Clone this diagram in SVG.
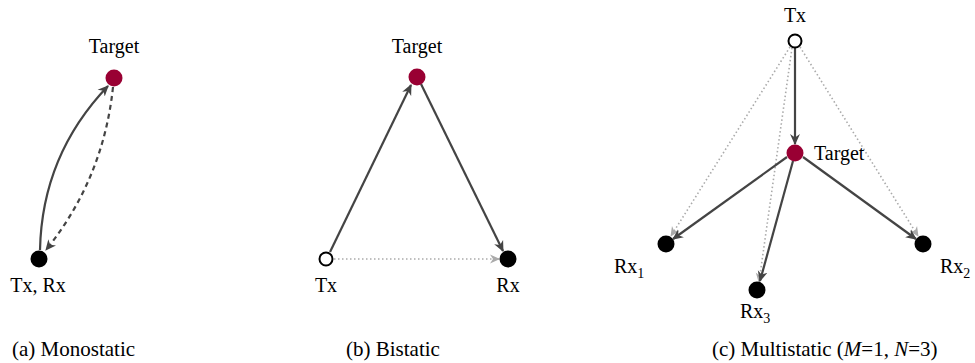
<svg xmlns="http://www.w3.org/2000/svg" width="975" height="363" viewBox="0 0 975 363" font-family="'Liberation Serif', 'Times New Roman', Tinos, 'DejaVu Serif', serif" font-size="20">
<style>
.lbl{font-family:"Liberation Serif","Times New Roman",Tinos,"DejaVu Serif",serif;font-size:20px;fill:#000}
.cap{font-size:21px}
.sub{font-size:14px}
.tgt{fill:#990033}
.rx{fill:#000}
.tx{fill:#fff;stroke:#000;stroke-width:2}
.sig{fill:none;stroke:#444;stroke-width:2.2}
.dash{fill:none;stroke:#444;stroke-width:2.2;stroke-dasharray:5 4}
.dot{fill:none;stroke:#aaa;stroke-width:1.6;stroke-dasharray:1.5 2.5}
</style>
<defs>
<marker id="ah" viewBox="0 0 10 10" refX="9" refY="5" markerWidth="11" markerHeight="11" markerUnits="userSpaceOnUse" orient="auto">
<path d="M0,0.5 L10,5 L0,9.5 L3,5 z" fill="#444"/>
</marker>
<marker id="ahg" viewBox="0 0 10 10" refX="9" refY="5" markerWidth="10" markerHeight="10" markerUnits="userSpaceOnUse" orient="auto">
<path d="M0,0.5 L10,5 L0,9.5 L3,5 z" fill="#aaa"/>
</marker>
</defs>
<g id="connectors">
<path class="sig" d="M40,250 Q42,155 108,86" marker-end="url(#ah)"/>
<path class="dash" d="M113,87 Q103.5,178.5 46,250" marker-end="url(#ah)"/>
<path class="sig" d="M330,252 L411,85" marker-end="url(#ah)"/>
<path class="sig" d="M421,84 L503,251" marker-end="url(#ah)"/>
<path class="dot" d="M334,259 L499,259" marker-end="url(#ahg)"/>
<path class="dot" d="M790,47 L671,236" marker-end="url(#ahg)"/>
<path class="dot" d="M792,48 L759,282" marker-end="url(#ahg)"/>
<path class="dot" d="M800,47 L918,236" marker-end="url(#ahg)"/>
<path class="sig" d="M795,48 L795,144" marker-end="url(#ah)"/>
<path class="sig" d="M787,157 L673,239" marker-end="url(#ah)"/>
<path class="sig" d="M793,161 L760,281" marker-end="url(#ah)"/>
<path class="sig" d="M803,157 L916,239" marker-end="url(#ah)"/>
</g>
<g id="a-target"><circle class="tgt" cx="114" cy="78" r="8.5"/><text class="lbl" x="114" y="53" text-anchor="middle">Target</text></g>
<g id="a-txrx"><circle class="rx" cx="39" cy="259" r="8.5"/><text class="lbl" x="38" y="292" text-anchor="middle">Tx, Rx</text></g>
<g id="b-target"><circle class="tgt" cx="417" cy="77" r="8.5"/><text class="lbl" x="417" y="53" text-anchor="middle">Target</text></g>
<g id="b-tx"><circle class="tx" cx="326" cy="259" r="6.5"/><text class="lbl" x="326" y="292" text-anchor="middle">Tx</text></g>
<g id="b-rx"><circle class="rx" cx="508" cy="259" r="8.5"/><text class="lbl" x="508" y="292" text-anchor="middle">Rx</text></g>
<g id="c-tx"><circle class="tx" cx="795" cy="41" r="6.5"/><text class="lbl" x="795" y="22" text-anchor="middle">Tx</text></g>
<g id="c-target"><circle class="tgt" cx="795" cy="153" r="8.5"/><text class="lbl" x="814" y="160">Target</text></g>
<g id="c-rx1"><circle class="rx" cx="666" cy="244" r="8.5"/><text class="lbl" x="614" y="273">Rx<tspan class="sub" dy="5">1</tspan></text></g>
<g id="c-rx3"><circle class="rx" cx="757" cy="290" r="8.5"/><text class="lbl" x="740" y="318">Rx<tspan class="sub" dy="5">3</tspan></text></g>
<g id="c-rx2"><circle class="rx" cx="923" cy="244" r="8.5"/><text class="lbl" x="940" y="273">Rx<tspan class="sub" dy="5">2</tspan></text></g>
<g id="captions">
<text class="lbl cap" x="12" y="356">(a) Monostatic</text>
<text class="lbl cap" x="346" y="356">(b) Bistatic</text>
<text class="lbl cap" x="712" y="356">(c) Multistatic (<tspan font-style="italic">M</tspan>=1, <tspan font-style="italic">N</tspan>=3)</text>
</g>
</svg>
